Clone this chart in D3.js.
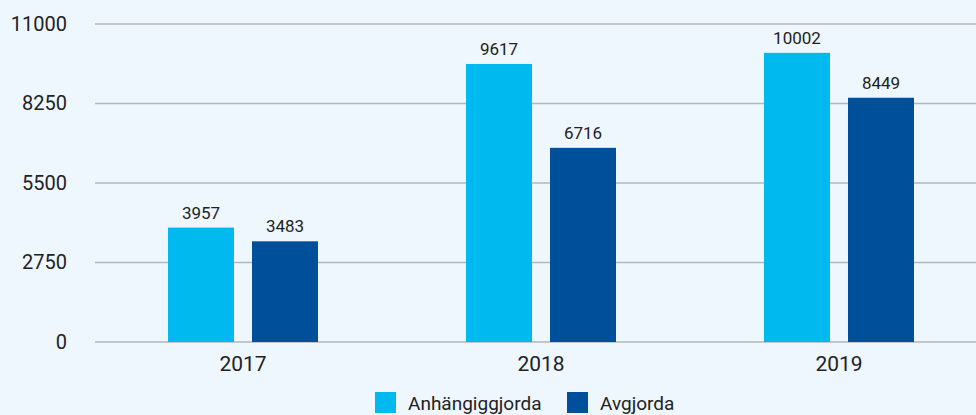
<!DOCTYPE html>
<html>
<head>
<meta charset="utf-8">
<script src="https://cdn.jsdelivr.net/npm/d3@7"></script>
<style>
  body { margin: 0; background: #eef6fe; }
  svg { display: block; font-family: Roboto, sans-serif; }
</style>
</head>
<body>
<script>
// chart data
var years = ["2017", "2018", "2019"];
var seriesNames = ["Anhängiggjorda", "Avgjorda"];
var anhangiggjorda = [3957, 9617, 10002];
var avgjorda = [3483, 6716, 8449];
var yTicks = [0, 2750, 5500, 8250, 11000];
var colors = ["#00b9ee", "#004f9b"];

var width = 976, height = 415;

var svg = d3.select("body").append("svg")
  .attr("width", width)
  .attr("height", height);

var x = d3.scaleBand().domain(years).range([94, 988]);
var inner = d3.scaleBand().domain(seriesNames).range([0, 150]).paddingInner(18 / 84);
var y = d3.scaleLinear().domain([0, 11000]).range([342, 24]);

// grid lines
svg.append("g").selectAll("line")
  .data(yTicks)
  .enter().append("line")
  .attr("x1", 95).attr("x2", width)
  .attr("y1", function(d) { return y(d); })
  .attr("y2", function(d) { return y(d); })
  .attr("stroke", "#b3b7bb")
  .attr("stroke-width", 1.4);

// y axis labels
var yAxis = d3.axisLeft(y).tickValues(yTicks).tickFormat(d3.format("d")).tickSize(0).tickPadding(0);
var yg = svg.append("g").attr("transform", "translate(67,0)").call(yAxis);
yg.select(".domain").remove();
yg.selectAll("text")
  .attr("font-family", "Roboto, sans-serif")
  .attr("font-size", 20)
  .attr("fill", "#222");

// x axis labels
var xAxis = d3.axisBottom(x).tickSize(0).tickPadding(0);
var xg = svg.append("g").attr("transform", "translate(0,342)").call(xAxis);
xg.select(".domain").remove();
xg.selectAll("text")
  .attr("font-family", "Roboto, sans-serif")
  .attr("font-size", 21)
  .attr("fill", "#222")
  .attr("dy", null)
  .attr("y", 29);

var rows = years.map(function(yr, i) {
  return [
    { year: yr, name: seriesNames[0], value: anhangiggjorda[i], c: colors[0] },
    { year: yr, name: seriesNames[1], value: avgjorda[i], c: colors[1] }
  ];
});

var groups = svg.append("g").selectAll("g")
  .data(rows)
  .enter().append("g")
  .attr("transform", function(d, i) {
    return "translate(" + (x(years[i]) + x.bandwidth() / 2 - 75) + ",0)";
  });

groups.selectAll("rect")
  .data(function(d) { return d; })
  .enter().append("rect")
  .attr("x", function(d) { return inner(d.name); })
  .attr("width", inner.bandwidth())
  .attr("y", function(d) { return y(d.value); })
  .attr("height", function(d) { return y(0) - y(d.value); })
  .attr("fill", function(d) { return d.c; });

groups.selectAll("text")
  .data(function(d) { return d; })
  .enter().append("text")
  .attr("x", function(d) { return inner(d.name) + inner.bandwidth() / 2; })
  .attr("y", function(d) { return y(d.value) - 9; })
  .attr("text-anchor", "middle")
  .attr("font-size", 17)
  .attr("fill", "#222")
  .text(function(d) { return d.value; });

// legend
var legendX = [375, 567];
var legend = svg.append("g").selectAll("g")
  .data(seriesNames)
  .enter().append("g")
  .attr("transform", function(d, i) { return "translate(" + legendX[i] + ",392)"; });

legend.append("rect")
  .attr("width", 21).attr("height", 21)
  .attr("fill", function(d, i) { return colors[i]; });

legend.append("text")
  .attr("x", 33)
  .attr("y", 18)
  .attr("font-size", 19)
  .attr("fill", "#222")
  .text(function(d) { return d; });
</script>
</body>
</html>
